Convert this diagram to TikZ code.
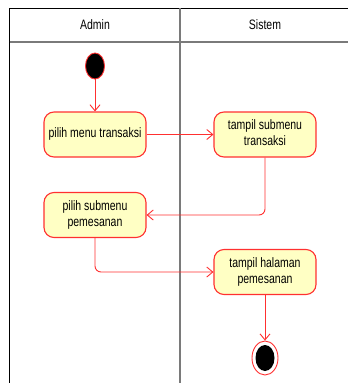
\documentclass[tikz,border=0pt]{standalone}
\usepackage{fontspec}
\setmainfont{Liberation Sans}
\usetikzlibrary{arrows.meta,shapes.geometric}
\definecolor{actfill}{HTML}{FFFFC4}
\definecolor{actline}{HTML}{FF3030}
\definecolor{laneline}{HTML}{7A7A7A}
% tall, narrow text as set by the modelling tool
\newcommand\talltext[1]{\scalebox{1}[1.3]{\begin{tabular}{@{}c@{}}#1\end{tabular}}}
\tikzset{
  activity/.style={draw=actline, fill=actfill, line width=1.1pt, rounded corners=10pt,
    minimum width=102pt, minimum height=45pt, align=center, inner sep=2pt,
    font=\fontsize{10.5}{12.5}\selectfont},
  flow/.style={draw=actline, line width=0.9pt, rounded corners=6pt,
    -{Straight Barb[length=6pt,width=10pt]}},
  lanelabel/.style={font=\fontsize{10.5}{12.5}\selectfont},
}
\begin{document}
\begin{tikzpicture}[x=1pt, y=-1pt]
  \useasboundingbox (0,0) rectangle (348,383);
  % swimlane frame
  \draw[black, line width=1pt] (9.5,383) -- (9.5,8) -- (348,8);
  \draw[laneline, line width=1.3pt] (9.5,42) -- (348,42);
  \draw[laneline, line width=1.3pt] (180,8) -- (180,383);
  \node[lanelabel] (admin) at (95,26) {\talltext{Admin}};
  \node[lanelabel] (sistem) at (265,26) {\talltext{Sistem}};
  % initial and final states
  \node[draw=actline, fill=black, ellipse, minimum width=19pt, minimum height=26pt, inner sep=0pt, line width=0.9pt] (start) at (95,66) {};
  \node[draw=actline, fill=white, ellipse, minimum width=26pt, minimum height=34pt, inner sep=0pt, line width=0.9pt] (end) at (265,358) {};
  \node[fill=black, ellipse, minimum width=19pt, minimum height=26pt, inner sep=0pt] (endcore) at (265,358) {};
  % activities
  \node[activity] (a1) at (95,134.5) {\talltext{pilih menu transaksi}};
  \node[activity] (a2) at (265,134.5) {\talltext{tampil submenu\\transaksi}};
  \node[activity] (a3) at (95,215) {\talltext{pilih submenu\\pemesanan}};
  \node[activity] (a4) at (265,272) {\talltext{tampil halaman\\pemesanan}};
  % control flows
  \draw[flow] (start) -- (a1);
  \draw[flow] (a1) -- (a2);
  \draw[flow] (a2.south) |- (a3.east);
  \draw[flow] (a3.south) |- (a4.west);
  \draw[flow] (a4) -- (end);
\end{tikzpicture}
\end{document}
